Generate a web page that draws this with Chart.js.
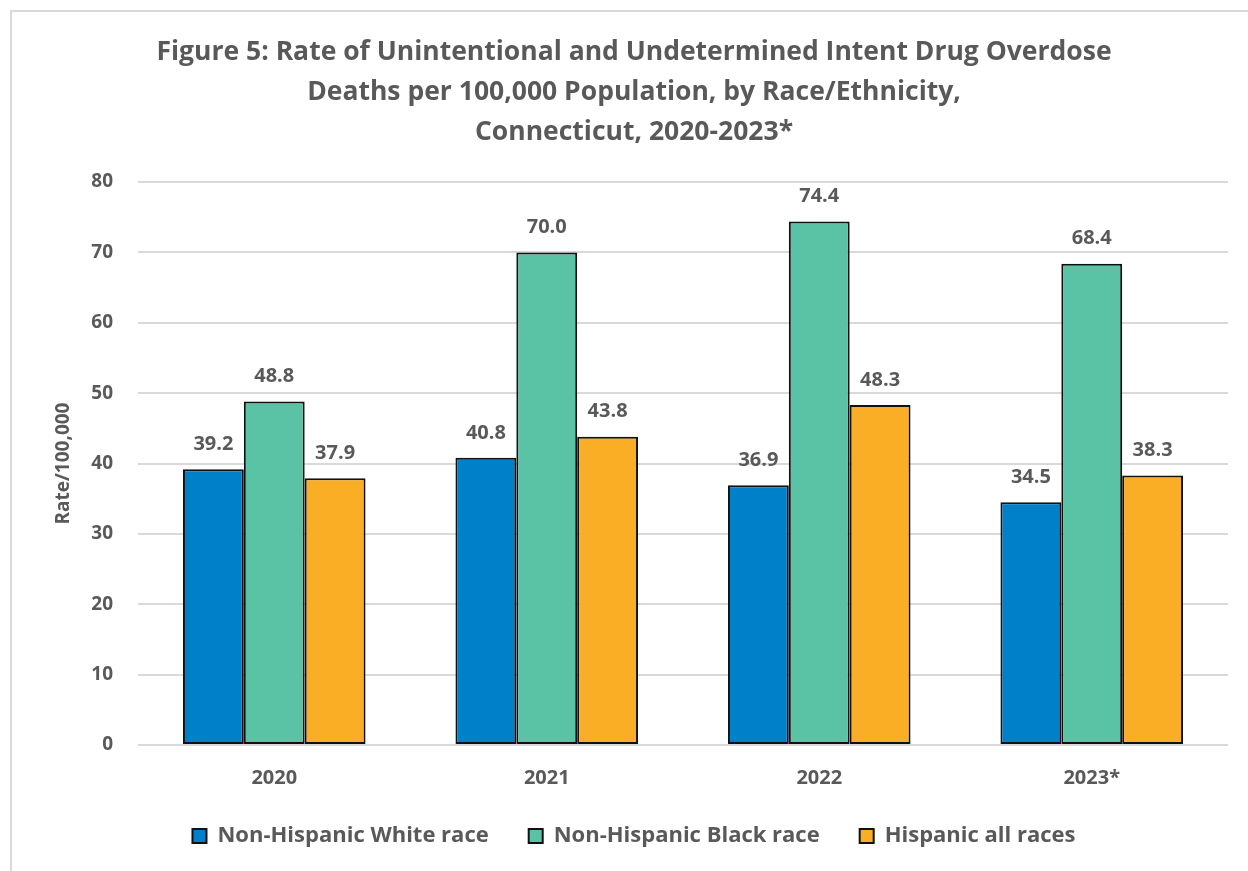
<!DOCTYPE html>
<html>
<head>
<meta charset="utf-8">
<script src="https://cdn.jsdelivr.net/npm/chart.js@4"></script>
<style>
html,body{margin:0;padding:0;background:#fff;}
#wrap{width:1248px;height:871px;}
</style>
</head>
<body>
<div id="wrap"><canvas id="c" width="1248" height="871"></canvas></div>
<script>
const categories = ["2020", "2021", "2022", "2023*"];
const seriesNames = ["Non-Hispanic White race", "Non-Hispanic Black race", "Hispanic all races"];
const whiteRates = [39.2, 40.8, 36.9, 34.5];
const blackRates = [48.8, 70.0, 74.4, 68.4];
const hispanicRates = [37.9, 43.8, 48.3, 38.3];
const yTicks = [0, 10, 20, 30, 40, 50, 60, 70, 80];
const titleLines = [
  "Figure 5: Rate of Unintentional and Undetermined Intent Drug Overdose",
  "Deaths per 100,000 Population, by Race/Ethnicity,",
  "Connecticut, 2020-2023*"
];
const yAxisTitle = "Rate/100,000";

const FONT = "'Open Sans', Lato, sans-serif";
const TXT = "#595959";

const frame = {
  id: 'frame',
  beforeDraw(chart) {
    const ctx = chart.ctx;
    ctx.save();
    ctx.fillStyle = '#fff';
    ctx.fillRect(0, 0, chart.width, chart.height);
    ctx.strokeStyle = '#d9d9d9';
    ctx.lineWidth = 2;
    ctx.beginPath();
    ctx.moveTo(11, chart.height + 5);
    ctx.lineTo(11, 11);
    ctx.lineTo(chart.width + 5, 11);
    ctx.stroke();
    ctx.restore();
  }
};

const valueLabels = {
  id: 'valueLabels',
  afterDatasetsDraw(chart) {
    const ctx = chart.ctx;
    ctx.save();
    ctx.font = "bold 20px " + FONT;
    ctx.fillStyle = TXT;
    ctx.textAlign = 'center';
    ctx.textBaseline = 'middle';
    chart.data.datasets.forEach((ds, i) => {
      const meta = chart.getDatasetMeta(i);
      meta.data.forEach((el, j) => {
        ctx.fillText(ds.data[j].toFixed(1), el.x, el.y - 25);
      });
    });
    ctx.restore();
  }
};

new Chart(document.getElementById('c'), {
  type: 'bar',
  data: {
    labels: categories,
    datasets: [
      { label: seriesNames[0], data: whiteRates, backgroundColor: '#0080C8' },
      { label: seriesNames[1], data: blackRates, backgroundColor: '#5BC3A5' },
      { label: seriesNames[2], data: hispanicRates, backgroundColor: '#F9AE26' }
    ].map(d => Object.assign(d, { borderColor: '#111', borderWidth: 2, borderSkipped: false, categoryPercentage: 0.67, barPercentage: 1.0 }))
  },
  options: {
    responsive: false,
    animation: false,
    devicePixelRatio: 1,
    layout: { padding: { left: 40, right: 20, top: 33, bottom: 14 } },
    plugins: {
      title: {
        display: true,
        text: titleLines,
        color: TXT,
        font: { family: FONT, size: 26.5, weight: 'bold', lineHeight: 1.5 },
        padding: { top: 0, bottom: 29.75 }
      },
      legend: {
        position: 'bottom',
        labels: {
          color: TXT,
          font: { family: FONT, size: 22, weight: 'bold' },
          boxWidth: 14,
          boxHeight: 14,
          padding: 40,
          generateLabels(chart) {
            return chart.data.datasets.map((ds, i) => ({
              text: ds.label, fillStyle: ds.backgroundColor, strokeStyle: '#111', lineWidth: 2,
              fontColor: TXT, datasetIndex: i, hidden: false
            }));
          }
        }
      },
      tooltip: { enabled: false }
    },
    scales: {
      x: {
        grid: { display: false, drawTicks: false },
        border: { display: false },
        ticks: { color: TXT, font: { family: FONT, size: 20, weight: 'bold' }, padding: 21 },
        afterFit(scale) { scale.height = 40; }
      },
      y: {
        min: 0, max: 80,
        afterBuildTicks(scale) { scale.ticks = yTicks.map(v => ({ value: v })); },
        grid: { color: '#d9d9d9', lineWidth: 2, drawTicks: false },
        border: { display: false },
        ticks: { color: TXT, font: { family: FONT, size: 19, weight: 'bold' }, padding: 25 },
        title: { display: true, text: yAxisTitle, color: TXT, font: { family: FONT, size: 19, weight: 'bold' }, padding: { top: 12, bottom: 0 } },
        afterFit(scale) { scale.width = 98; }
      }
    }
  },
  plugins: [frame, valueLabels]
});
</script>
</body>
</html>
